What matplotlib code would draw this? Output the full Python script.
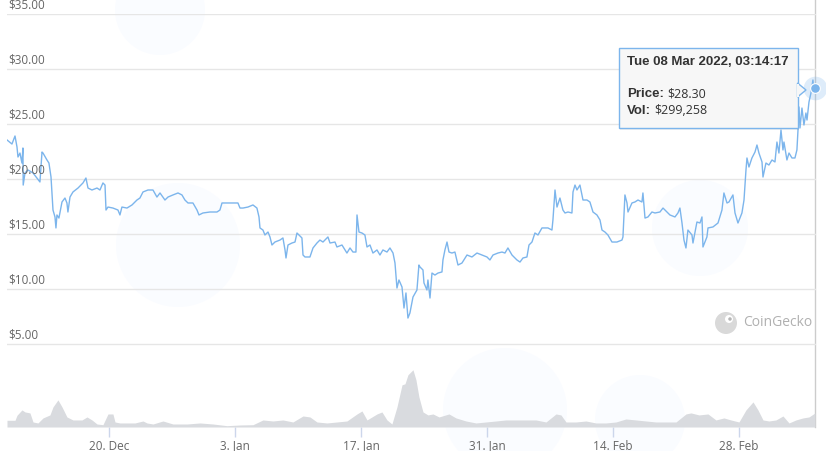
import datetime as dt
import matplotlib
matplotlib.use("Agg")
import matplotlib.pyplot as plt
from matplotlib.patches import Rectangle, Polygon, Ellipse
from matplotlib.transforms import blended_transform_factory

plt.rcParams['font.family'] = ['Open Sans', 'DejaVu Sans']

START = dt.datetime(2021, 12, 8)

price_days = [0.67, 1.22, 1.56, 1.78, 1.89, 2.11, 2.33, 2.44, 2.47, 2.67, 3.00, 3.56, 4.00, 4.33, 4.56, 4.67, 5.11, 5.33, 5.56, 5.78,
              6.00, 6.11, 6.22, 6.44, 6.78, 7.11, 7.33, 7.44, 7.67, 8.00, 8.56, 9.11, 9.44, 9.67, 10.11, 10.67, 11.00, 11.33, 11.56, 11.67,
              11.89, 12.44, 13.00, 13.22, 13.44, 14.00, 14.56, 15.11, 15.44,
              15.78, 16.33, 16.89, 17.33, 17.67, 18.22, 18.56, 19.11, 19.67, 20.11, 20.44, 20.78, 21.33, 21.78, 22.00, 22.44, 23.22, 24.00, 24.33, 24.56,
              25.11, 25.78, 26.33, 26.56, 26.89, 27.44, 28.00, 28.44, 28.67, 28.78, 29.11, 29.33, 29.67, 29.89, 30.11, 30.44, 31.00,
              31.33, 31.56, 31.67, 31.89, 32.33, 32.67, 32.89, 33.11, 33.44, 33.56, 33.78, 34.33, 34.67, 35.11, 35.44, 35.78, 36.33, 36.56, 37.11, 37.33,
              37.89, 38.44, 38.78, 39.11, 39.44, 39.56, 39.78, 40.11, 40.44, 40.67, 41.00, 41.33, 41.78, 42.11, 42.44, 42.89, 43.22, 43.56, 43.78, 44.00,
              44.22, 44.56, 44.78, 45.00, 45.22, 45.44, 45.78, 46.22, 46.44,
              46.56, 46.89, 47.00, 47.33, 47.44, 47.67, 47.89, 48.22, 48.56, 49.00, 49.11, 49.33, 49.56, 49.78, 50.11, 50.44, 50.78, 51.22, 51.78, 52.33,
              52.89, 53.44, 54.00, 54.33, 54.67, 55.22, 55.67, 56.00, 56.33, 56.78, 57.33, 57.67, 58.00, 58.44, 58.67, 59.00, 59.33, 59.67, 60.11, 60.44,
              60.78, 61.22, 61.33, 61.56, 61.78, 62.11,
              62.44, 62.67, 63.00, 63.44, 63.56, 63.78, 64.00, 64.33, 64.67, 65.11, 65.44, 65.78, 66.22, 66.56, 66.78, 67.11, 67.44, 67.89, 68.44, 69.00,
              69.11, 69.33, 69.56, 69.67, 70.11, 70.44, 70.78, 71.22, 71.33, 71.56, 71.89, 72.33, 72.67, 73.22, 73.56, 74.00, 74.33, 74.89, 75.22, 75.44,
              75.67, 75.89, 76.11, 76.33, 76.78, 76.89, 77.33, 77.67,
              77.89, 78.00, 78.44, 78.56, 79.11, 79.67, 80.11, 80.33, 80.67, 80.89, 81.33, 81.56, 81.89, 82.33, 82.56, 82.78, 82.89, 83.11, 83.44, 83.78,
              84.00, 84.22, 84.56, 84.67, 85.00, 85.33, 85.67, 86.00, 86.22, 86.44, 86.67, 86.89, 87.00, 87.33, 87.56, 87.89, 88.22, 88.44, 88.56, 88.67,
              88.78, 89.00, 89.22, 89.44, 89.56, 89.78, 90.00, 90.22, 90.33, 90.44]

price_usd = [23.55, 23.18, 23.91, 22.91, 22.00, 22.36, 21.45, 22.82, 19.45, 20.55, 20.82, 20.55, 20.09, 19.73, 22.45, 22.36, 21.73, 21.45, 20.18, 17.18,
             16.55, 15.55, 16.73, 16.45, 17.91, 18.27, 17.82, 17.00, 18.36, 18.82, 19.18, 19.64, 20.09, 19.18, 19.00, 19.18, 19.00, 19.64, 19.45, 17.18,
             17.45, 17.36, 17.18, 16.73, 17.45, 17.36, 17.64, 18.09, 18.27,
             18.82, 19.00, 19.00, 18.36, 18.73, 18.09, 18.36, 18.55, 18.73, 18.55, 18.09, 17.82, 17.82, 17.18, 16.73, 16.91, 17.00, 17.00, 17.18, 17.82,
             17.82, 17.82, 17.82, 17.36, 17.36, 17.45, 17.64, 17.36, 16.55, 15.55, 15.36, 14.91, 15.18, 14.73, 14.00, 14.27, 14.45,
             14.64, 13.55, 12.82, 14.00, 14.18, 14.27, 15.09, 14.91, 14.64, 13.09, 12.91, 12.91, 13.73, 14.18, 14.45, 14.27, 14.73, 14.18, 14.27, 13.82,
             14.00, 13.27, 13.73, 13.36, 13.36, 16.73, 15.18, 15.09, 14.91, 13.82, 14.00, 13.27, 13.55, 13.09, 13.55, 13.36, 13.73, 13.27, 12.36, 10.09,
             10.82, 10.18, 8.27, 9.64, 7.36, 7.82, 9.27, 9.91, 12.18,
             12.00, 11.73, 10.55, 9.91, 10.82, 9.18, 11.45, 11.27, 11.45, 11.55, 12.64, 13.55, 14.27, 13.36, 13.27, 13.36, 12.18, 12.36, 13.09, 12.91,
             13.27, 13.09, 12.91, 12.64, 13.09, 13.27, 13.36, 13.27, 13.73, 13.09, 12.64, 12.45, 12.82, 12.91, 14.00, 14.27, 15.09, 14.91, 15.55, 15.55,
             15.55, 15.36, 16.27, 19.00, 17.45, 18.27,
             17.18, 16.91, 17.00, 16.91, 18.82, 19.45, 19.00, 19.45, 18.09, 18.09, 17.91, 17.00, 16.73, 16.27, 15.36, 15.18, 14.91, 14.27, 14.27, 14.45,
             14.73, 18.55, 17.82, 17.00, 17.82, 17.91, 18.09, 17.91, 18.73, 16.45, 16.55, 17.00, 16.91, 17.00, 17.36, 17.00, 16.73, 16.55, 16.91, 17.36,
             16.00, 14.45, 13.73, 15.36, 14.91, 14.18, 16.09, 16.00,
             16.55, 13.82, 14.73, 15.55, 15.64, 16.00, 17.18, 18.73, 17.82, 17.91, 18.55, 16.91, 16.00, 16.91, 18.09, 20.82, 21.91, 21.09, 21.91, 22.45,
             23.09, 22.36, 21.55, 20.18, 21.45, 21.27, 21.73, 21.55, 23.36, 22.36, 24.45, 22.64, 23.36, 21.73, 22.36, 21.91, 21.91, 22.64, 24.45, 26.55,
             24.64, 26.45, 24.91, 26.00, 25.36, 27.00, 27.82, 29.00, 27.91, 28.30]

volume_days = [0.67, 1.56, 1.78, 2.33, 2.67, 3.22, 3.56, 4.11, 4.67, 5.44, 5.78, 6.33, 6.78, 7.33, 8.00, 9.00, 9.56, 10.11, 10.67, 11.33,
               11.89, 12.44, 12.67, 13.22, 14.89, 15.78, 16.22, 16.89, 18.00, 19.11, 20.67, 22.11, 23.56, 25.11, 26.56, 28.00, 29.11, 30.22, 31.33, 32.44,
               33.56, 34.33, 35.11, 36.22, 37.33, 38.44, 39.56, 40.11, 40.67, 41.78, 42.33, 42.89, 43.44, 44.00, 44.56, 44.89, 45.22, 45.78, 46.11, 46.44,
               46.89, 47.44, 48.00, 48.67, 49.78, 50.56, 51.67, 52.78, 53.89, 55.00, 56.11, 57.22, 58.33, 59.44, 60.56, 61.67, 62.22, 62.78, 63.89, 65.00,
               66.11, 67.22, 68.33, 69.44, 70.56, 71.67, 72.78, 73.89, 75.00, 76.11, 76.67, 77.56, 78.56, 79.44, 80.33, 81.11, 82.00, 82.78, 83.56, 84.11,
               84.67, 85.33, 86.11, 86.89, 87.56, 88.33, 89.11, 89.78, 90.44]

volume_k_usd = [143, 143, 250, 364, 321, 300, 107, 86, 193, 257, 428, 578, 428, 214, 150, 150, 214, 150, 64, 49,
                278, 278, 107, 86, 86, 128, 86, 64, 128, 64, 64, 86, 64, 28, 43, 49, 150, 128, 150, 107,
                235, 214, 107, 86, 107, 128, 278, 342, 150, 278, 321, 150, 64, 428, 899, 920, 1113, 1220, 1006, 642,
                321, 257, 278, 214, 278, 193, 128, 86, 107, 128, 150, 150, 150, 150, 107, 278, 257, 107, 107, 128,
                86, 86, 107, 171, 150, 128, 107, 107, 107, 278, 300, 257, 278, 150, 193, 150, 107, 364, 535, 364,
                150, 128, 150, 235, 86, 150, 193, 214, 299]

ytick_values = [5, 10, 15, 20, 25, 30, 35]
xtick_dates = [dt.datetime(2021, 12, 20), dt.datetime(2022, 1, 3), dt.datetime(2022, 1, 17),
               dt.datetime(2022, 1, 31), dt.datetime(2022, 2, 14), dt.datetime(2022, 2, 28)]
xtick_labels = ["20. Dec", "3. Jan", "17. Jan", "31. Jan", "14. Feb", "28. Feb"]

tooltip_title = "Tue 08 Mar 2022, 03:14:17"
tooltip_price = 28.30
tooltip_vol = 299258

# ---------------------------------------------------------------------------
W, H = 826, 451
LINE = '#7cb5ec'
TXT = '#666666'

def t(d):
    return START + dt.timedelta(days=d)

price_t = [t(d) for d in price_days]
vol_t = [t(d) for d in volume_days]
xlim = (t(0.67), t(90.56))

fig = plt.figure(figsize=(W / 100, H / 100), dpi=100)
fig.patch.set_facecolor('white')

def fx(x):
    return x / W

def fy(y):
    return 1 - y / H

# very faint background watermark blobs (behind everything)
bg = fig.add_axes([0, 0, 1, 1], zorder=-5)
bg.set_axis_off()
bg.set_xlim(0, 1)
bg.set_ylim(0, 1)
for cx, cy, r in [(178, 245, 62), (700, 228, 48), (505, 410, 62), (160, 10, 45), (640, 420, 45)]:
    bg.add_patch(Ellipse((fx(cx), fy(cy)), 2 * r / W, 2 * r / H, fc='#fafcff', ec='none'))

# volume axes
axv = fig.add_axes([fx(7), fy(427), (816 - 7) / W, 61 / H], zorder=1)
axv.set_facecolor('none')
axv.fill_between(vol_t, 0, volume_k_usd, color='#d9dbdf', lw=0, zorder=2)
axv.set_ylim(0, 1300)
axv.set_xlim(*xlim)
for s in axv.spines.values():
    s.set_visible(False)
axv.set_yticks([])
axv.set_xticks(xtick_dates)
axv.set_xticklabels(xtick_labels)
axv.tick_params(axis='x', length=7, width=1, color='#ccd6eb', pad=2, labelsize=8.5, labelcolor=TXT)

# price axes
ax = fig.add_axes([fx(7), fy(399), (816 - 7) / W, (399 - 14) / H], zorder=2)
ax.set_facecolor('none')
ax.set_xlim(*xlim)
ax.set_ylim(0, 35)
ax.set_yticks(ytick_values)
ax.yaxis.grid(True, color='#e6e6e6', lw=1)
ax.set_axisbelow(True)
ax.tick_params(left=False, labelleft=False, bottom=False, labelbottom=False)
for s in ax.spines.values():
    s.set_visible(False)

btrans = blended_transform_factory(ax.transAxes, ax.transData)
for v in ytick_values:
    ax.annotate(f"${v:.2f}", xy=(0, v), xycoords=btrans, xytext=(0.8, 1.5), textcoords='offset points',
                ha='left', va='bottom', fontsize=8.5, color=TXT, zorder=5)

ax.plot(price_t, price_usd, color=LINE, lw=1.0, zorder=4)

# crosshair at hovered point
vtrans = blended_transform_factory(axv.transData, axv.transAxes)
axv.plot([price_t[-1], price_t[-1]], [0, 427 / 61], color='#cccccc', lw=1, transform=vtrans,
         clip_on=False, zorder=1)

# hovered marker
ax.plot(price_t[-1], price_usd[-1], 'o', ms=17, color=LINE, alpha=0.25, mec='none', zorder=6, clip_on=False)
ax.plot(price_t[-1], price_usd[-1], 'o', ms=7, color=LINE, mec='white', mew=0.8, zorder=7, clip_on=False)

# tooltip
bx0, by0, bx1, by1 = 619, 48, 798, 128
fig.add_artist(Rectangle((fx(bx0 + 1), fy(by1 + 2)), (bx1 - bx0) / W, (by1 - by0) / H, transform=fig.transFigure,
                         fc='#000000', alpha=0.06, ec='none', zorder=8))
fig.add_artist(Rectangle((fx(bx0), fy(by1)), (bx1 - bx0) / W, (by1 - by0) / H, transform=fig.transFigure,
                         fc='#f7f7f7', ec=LINE, lw=1, zorder=9))
fig.add_artist(Polygon([(fx(bx1 - 0.5), fy(83)), (fx(806), fy(90)), (fx(bx1 - 0.5), fy(97))], closed=True,
                       transform=fig.transFigure, fc='#f7f7f7', ec=LINE, lw=1, zorder=9))
fig.add_artist(Rectangle((fx(bx1 - 1.5), fy(96.5)), 2.2 / W, 13 / H, transform=fig.transFigure,
                         fc='#f7f7f7', ec='none', zorder=10))

BOLD = ['Liberation Sans', 'DejaVu Sans']
fig.text(fx(627), fy(62), tooltip_title, fontsize=9.5, weight='bold', family=BOLD, color='#333333', va='center', zorder=11)
l1 = fig.text(fx(627), fy(94), "Price:", fontsize=9.5, weight='bold', family=BOLD, color='#333333', va='center', zorder=11)
l2 = fig.text(fx(627), fy(111), "Vol:", fontsize=9.5, weight='bold', family=BOLD, color='#333333', va='center', zorder=11)
fig.canvas.draw()
r = fig.canvas.get_renderer()
for lab, val in [(l1, f"${tooltip_price:.2f}"), (l2, f"${tooltip_vol:,}")]:
    bb = lab.get_window_extent(r)
    fig.text((bb.x1 + 3) / W, lab.get_position()[1], val, fontsize=9, color='#333333', va='center', zorder=11)

# CoinGecko watermark
fig.add_artist(Ellipse((fx(726), fy(323)), 22 / W, 22 / H, transform=fig.transFigure, fc='#d9d9d9', ec='none', zorder=3))
fig.add_artist(Ellipse((fx(729), fy(319)), 8 / W, 8 / H, transform=fig.transFigure, fc='white', ec='none', zorder=3))
fig.add_artist(Ellipse((fx(730), fy(319)), 3.5 / W, 3.5 / H, transform=fig.transFigure, fc='#b5b5b5', ec='none', zorder=3))
fig.text(fx(743), fy(323), "CoinGecko", fontsize=10, color='#b0b0b0', va='center', ha='left', zorder=3)

fig.savefig("out.png", dpi=100, facecolor='white')
